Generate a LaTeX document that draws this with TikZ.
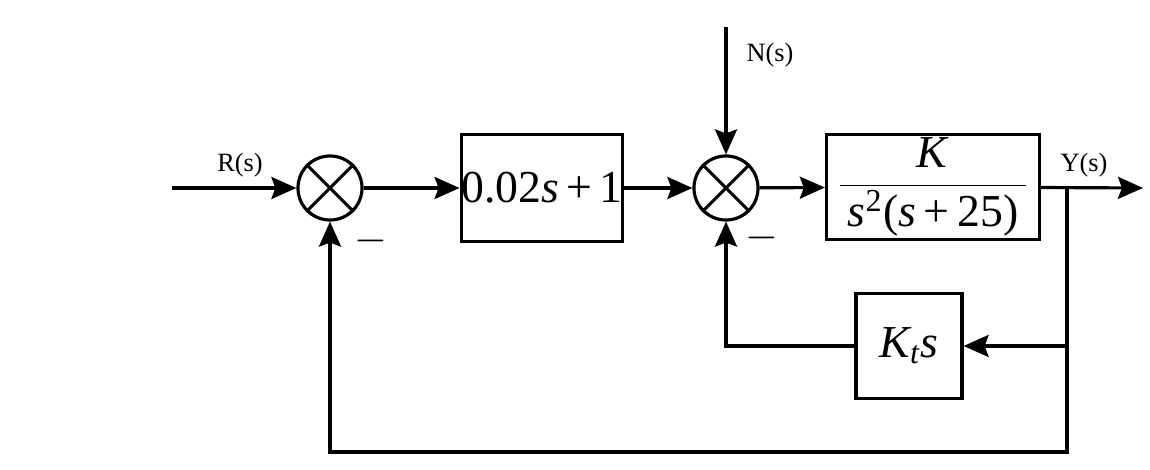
\documentclass[tikz,border=0pt]{standalone}
\usepackage{fontspec}
\setmainfont{Liberation Serif}
\usetikzlibrary{arrows.meta}

\tikzset{
  block/.style={draw, line width=0.9pt, inner sep=0pt, font=\fontsize{13}{15}\selectfont},
  sumnode/.style={draw, circle, line width=0.9pt, minimum size=0.64cm, inner sep=0pt},
  sig/.style={font=\fontsize{7.5}{9}\selectfont},
  line/.style={line width=0.9pt, -{Stealth[length=2.5mm,width=2.2mm,inset=0.4mm]}}
}

\begin{document}
\begin{tikzpicture}[x=0.01cm, y=-0.01cm]
    \useasboundingbox[fill=white] (0,0) rectangle (1150,470);

    \node[sumnode] (s1) at (330,188) {};
    \node[block, minimum width=1.6cm, minimum height=1.07cm] (g1) at (542,188) {0.02\textit{s}\,+\,1};
    \node[sumnode] (s2) at (726,188) {};
    \node[block, minimum width=2.13cm, minimum height=1.05cm] (g2) at (933,187)
      {$\displaystyle\frac{\mbox{\textit{K}}}{\mbox{\,\textit{s}\textsuperscript{2}(\textit{s}\,+\,25)\,}}$};
    \node[block, minimum width=1.06cm, minimum height=1.05cm] (h) at (909,346) {\textit{K\textsubscript{t}s}};

    \draw[line width=0.9pt] (s1.north west) -- (s1.south east) (s1.north east) -- (s1.south west);
    \draw[line width=0.9pt] (s2.north west) -- (s2.south east) (s2.north east) -- (s2.south west);

    \coordinate (in) at (172,188);
    \coordinate (out) at (1143,188);
    \coordinate (nin) at (726,27);
    \coordinate (br) at (1067,188);
    \coordinate (fb) at (1067,452);

    \node[sig] (rlab) at (240,165) {R(s)};
    \node[sig] (nlab) at (770,55) {N(s)};
    \node[sig] (ylab) at (1084,165) {Y(s)};
    \node[font=\fontsize{12}{14}\selectfont] (m1) at (371,241) {$-$};
    \node[font=\fontsize{12}{14}\selectfont] (m2) at (762,238) {$-$};

    \draw[line] (in) -- (s1);
    \draw[line] (s1) -- (g1);
    \draw[line] (g1) -- (s2);
    \draw[line] (nin) -- (s2);
    \draw[line] (s2) -- (g2);
    \draw[line] (g2) -- (out);
    \draw[line] (br) |- (h.east);
    \draw[line] (h.west) -| (s2.south);
    \draw[line] (br) -- (fb) -| (s1.south);

  \end{tikzpicture}
\end{document}
